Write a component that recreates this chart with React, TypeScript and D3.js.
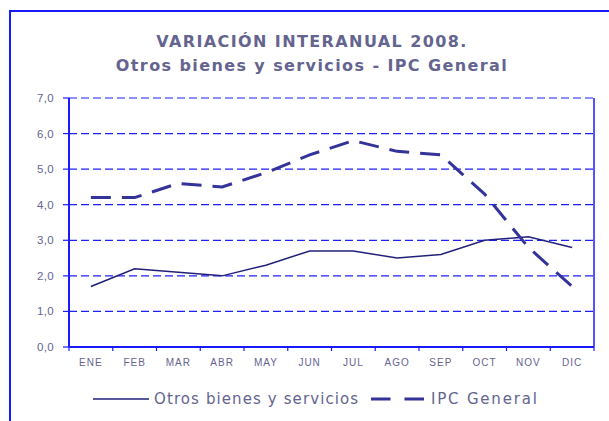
import * as d3 from 'd3';

const months = ['ENE', 'FEB', 'MAR', 'ABR', 'MAY', 'JUN', 'JUL', 'AGO', 'SEP', 'OCT', 'NOV', 'DIC'];
const otros = [1.7, 2.2, 2.1, 2.0, 2.3, 2.7, 2.7, 2.5, 2.6, 3.0, 3.1, 2.8];
const ipc = [4.2, 4.2, 4.6, 4.5, 4.9, 5.4, 5.8, 5.5, 5.4, 4.3, 2.8, 1.7];
const yTicks = [0, 1, 2, 3, 4, 5, 6, 7];
const titleLines = ['VARIACIÓN INTERANUAL 2008.', 'Otros bienes y servicios - IPC General'];
const seriesNames = ['Otros bienes y servicios', 'IPC General'];

const W = 609;
const H = 421;
const plot = { left: 69, right: 594, top: 98, bottom: 347 };

const textColor = '#64648f';
const gridColor = '#1f1fff';
const axisColor = '#1a1aff';
const solidColor = '#20207a';
const dashColor = '#33339a';

export default function App() {
  const x = d3.scaleBand<string>().domain(months).range([plot.left, plot.right]);
  const y = d3.scaleLinear().domain([0, 7]).range([plot.bottom, plot.top]);
  const cx = (i: number) => (x(months[i]) as number) + x.bandwidth() / 2;

  const line = d3
    .line<number>()
    .x((_, i) => cx(i))
    .y((d) => y(d));

  const fmt = (v: number) => v.toFixed(1).replace('.', ',');
  const boundaries = months.map((m) => x(m) as number).concat([plot.right]);

  return (
    <svg
      width={W}
      height={H}
      style={{ position: 'absolute', left: 0, top: 0, background: '#fff' }}
    >
      {/* outer frame, cut off at right and bottom */}
      <rect x={10} y={11} width={640} height={460} fill="none" stroke={axisColor} strokeWidth={2} />

      {titleLines.map((t, i) => (
        <text
          key={t}
          x={312}
          y={47 + i * 24}
          textAnchor="middle"
          fontFamily="DejaVu Sans, Verdana, sans-serif"
          fontWeight="bold"
          fontSize={16}
          letterSpacing={1.4}
          fill={textColor}
        >
          {t}
        </text>
      ))}

      {/* gridlines */}
      {yTicks.slice(1).map((t) => (
        <line
          key={t}
          x1={plot.left}
          x2={plot.right}
          y1={y(t)}
          y2={y(t)}
          stroke={gridColor}
          strokeWidth={1.2}
          strokeDasharray="8,4"
        />
      ))}

      {/* plot borders */}
      <line x1={plot.left} x2={plot.left} y1={plot.top} y2={plot.bottom} stroke={axisColor} strokeWidth={2} />
      <line x1={plot.right} x2={plot.right} y1={plot.top} y2={plot.bottom} stroke={axisColor} strokeWidth={1.5} />
      <line x1={plot.left} x2={plot.right} y1={plot.bottom} y2={plot.bottom} stroke={axisColor} strokeWidth={2} />

      {/* y axis */}
      {yTicks.map((t) => (
        <g key={t}>
          <line x1={plot.left - 6} x2={plot.left} y1={y(t)} y2={y(t)} stroke={axisColor} strokeWidth={1.2} />
          <text
            x={54}
            y={y(t) + 4}
            textAnchor="end"
            fontFamily="Liberation Sans, Arial, sans-serif"
            fontSize={11.5}
            letterSpacing={0.3}
            fill={textColor}
          >
            {fmt(t)}
          </text>
        </g>
      ))}

      {/* x axis */}
      {boundaries.map((b, i) => (
        <line key={i} x1={b} x2={b} y1={plot.bottom} y2={plot.bottom + 4} stroke={axisColor} strokeWidth={1.2} />
      ))}
      {months.map((m, i) => (
        <text
          key={m}
          x={cx(i)}
          y={366}
          textAnchor="middle"
          fontFamily="Liberation Sans, Arial, sans-serif"
          fontSize={10}
          letterSpacing={1}
          fill={textColor}
        >
          {m}
        </text>
      ))}

      {/* series */}
      <path d={line(otros) as string} fill="none" stroke={solidColor} strokeWidth={1.5} />
      <path
        d={line(ipc) as string}
        fill="none"
        stroke={dashColor}
        strokeWidth={3}
        strokeDasharray="20,11"
      />

      {/* legend */}
      <line x1={93} x2={149} y1={399} y2={399} stroke={solidColor} strokeWidth={1.5} />
      <text
        x={154}
        y={404}
        fontFamily="DejaVu Sans, Verdana, sans-serif"
        fontSize={15}
        letterSpacing={1.1}
        fill={textColor}
      >
        {seriesNames[0]}
      </text>
      <line x1={371} x2={424} y1={399} y2={399} stroke={dashColor} strokeWidth={3} strokeDasharray="19.5,14" />
      <text
        x={431}
        y={404}
        fontFamily="DejaVu Sans, Verdana, sans-serif"
        fontSize={15}
        letterSpacing={1.8}
        fill={textColor}
      >
        {seriesNames[1]}
      </text>
    </svg>
  );
}
